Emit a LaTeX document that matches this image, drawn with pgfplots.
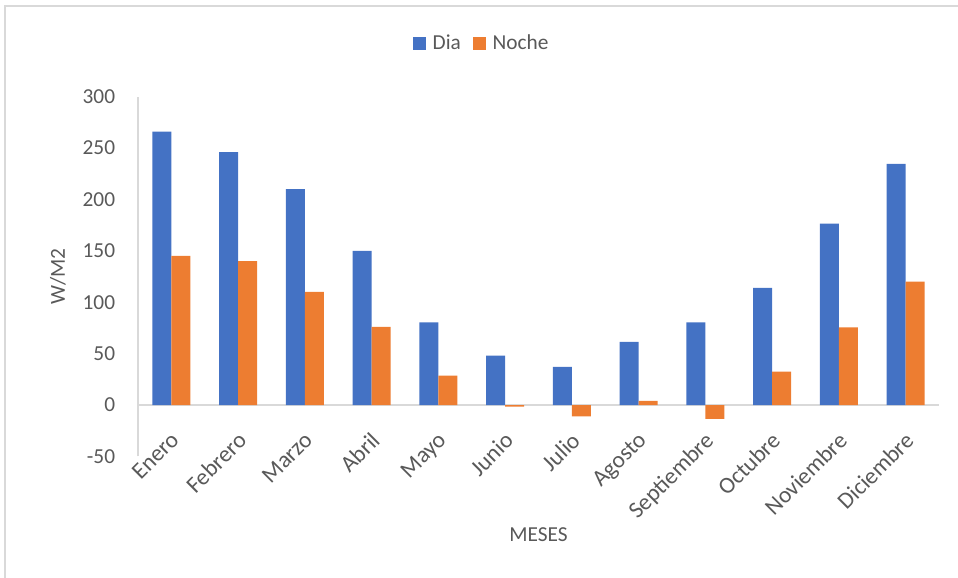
\documentclass[border=0pt]{standalone}
\usepackage{pgfplots}
\pgfplotsset{compat=1.18}
\usepackage{fontspec}
\setmainfont{Carlito}
\definecolor{dia}{HTML}{4472C4}
\definecolor{noche}{HTML}{ED7D31}
\definecolor{txt}{HTML}{595959}
\definecolor{rule}{HTML}{D9D9D9}
\newcommand{\chartfont}{\fontsize{16}{19.2}\selectfont}
\newcommand{\monthfont}{\fontsize{17.5}{21}\selectfont}
\begin{document}
\begin{tikzpicture}
% page extent
\useasboundingbox (-103.5pt,-91.2pt) rectangle (615pt,342.3pt);
% chart area frame
\draw[rule, line width=1.1pt] (-99.75pt,-91.2pt) -- (-99.75pt,337.8pt) -- (615pt,337.8pt);
\begin{axis}[
  at={(0,0)}, anchor=south west,
  scale only axis,
  width=600.75pt, height=269.8pt,
  ybar=0pt, bar width=14.25pt,
  xmin=-0.5, xmax=11.5,
  ymin=-50, ymax=300,
  axis x line=middle, axis y line=left,
  axis line style={draw=rule, line width=1pt, -},
  major tick length=0pt,
  xtick={0,...,11},
  xticklabels={Enero,Febrero,Marzo,Abril,Mayo,Junio,Julio,Agosto,Septiembre,Octubre,Noviembre,Diciembre},
  ytick={-50,0,50,100,150,200,250,300},
  /pgf/number format/assume math mode=true,
  tick label style={font=\chartfont, text=txt},
  yticklabel style={anchor=east, inner sep=0pt, xshift=-17pt},
  xticklabel style={font=\monthfont, rotate=45, anchor=north east, inner sep=0pt, xshift=-14.5pt, yshift=-12.5pt},
  ylabel={W/M2}, xlabel={MESES},
  every axis y label/.style={at={(axis description cs:-0.0999,0.5)}, rotate=90, anchor=center, font=\chartfont, text=txt},
  every axis x label/.style={at={(axis description cs:0.5,-0.2185)}, anchor=center, font=\chartfont, text=txt},
  legend style={at={(0.4295,1.148)}, anchor=center, draw=none, fill=none,
    font=\chartfont, text=txt, legend columns=2,
    /tikz/every odd column/.append style={column sep=3pt},
    /tikz/every even column/.append style={column sep=7pt}},
  legend image code/.code={\fill[#1] (0pt,-4.875pt) rectangle (9.75pt,4.875pt);},
  legend cell align=left,
]
\addplot[fill=dia, draw=none] coordinates {
  (0,266) (1,246) (2,210) (3,150) (4,80.5) (5,48)
  (6,37) (7,61.5) (8,80.5) (9,114) (10,176.5) (11,234.5)};
\addplot[fill=noche, draw=none] coordinates {
  (0,145) (1,140) (2,110) (3,76) (4,28.5) (5,-1.5)
  (6,-11) (7,4) (8,-13.5) (9,32.5) (10,75.5) (11,120)};
\legend{Dia,Noche}
\end{axis}
\end{tikzpicture}
\end{document}
